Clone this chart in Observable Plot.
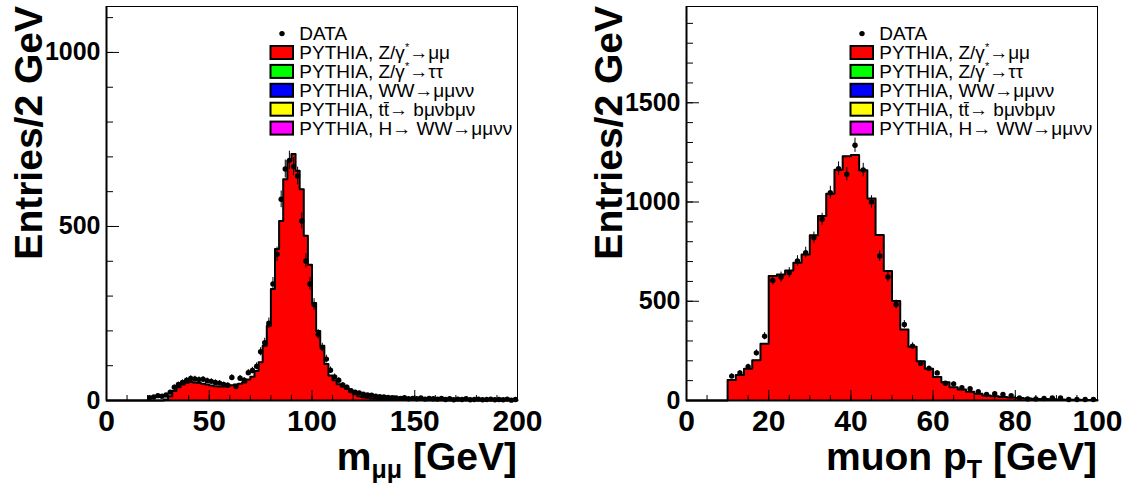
<!DOCTYPE html>
<html><head><meta charset="utf-8">
<script src="https://cdn.jsdelivr.net/npm/d3@7"></script>
<script src="https://cdn.jsdelivr.net/npm/@observablehq/plot@0.6"></script>
<style>
body{margin:0;background:#fff;}
#wrap{display:flex;width:1128px;height:483px;overflow:hidden;}
#wrap svg{display:block;}
</style>
</head><body><div id="wrap"></div>
<script>
// ---------- data: dimuon invariant mass, 2 GeV bins from 0 to 200 ----------
const massBinWidth = 2;
const massMC = [
  0,0,0,0,0,0,0,0,0,0,
  0,0,0,0,3,12,27,38,46,51,
  53,52,50,48,46,43,41,40,40,42,
  44,46,48,52,60,68,85,110,157,215,
  320,435,516,636,689,708,660,607,473,390,
  280,200,157,105,72,58,47,40,34,25,
  18,12,9,8,6,5,4,4,3,3,
  3,2,2,2,2,2,2,2,1,1,
  1,1,1,1,1,1,1,1,1,1,
  1,1,1,1,1,1,1,1,1,1
];
const massData = [
  0,0,0,0,0,0,0,0,0,0,
  8,10,14,12,16,24,38,46,52,58,
  63,62,60,61,57,55,52,50,46,44,
  66,40,64,58,80,86,98,140,166,222,
  335,420,578,665,690,672,645,516,401,335,
  276,190,152,119,87,68,58,45,38,28,
  24,22,18,16,15,12,11,10,9,8,
  7,6,8,5,6,5,7,4,6,5,
  4,6,3,5,2,4,3,5,2,3,
  4,2,3,4,2,3,2,4,1,3
];
// ---------- data: muon transverse momentum, 2 GeV bins from 0 to 100 ----------
const ptBinWidth = 2;
const ptMC = [
  0,0,0,0,0,103,128,160,203,286,
  627,635,655,694,736,832,929,1042,1163,1230,
  1237,1160,1018,834,652,501,358,271,198,160,
  119,92,67,55,44,34,25,22,18,15,
  12,10,8,7,6,5,4,4,3,3
];
const ptData = [
  0,0,0,0,0,123,139,170,240,324,
  605,622,644,703,745,820,913,1047,1168,1140,
  1286,1161,1000,728,622,484,383,274,187,161,
  139,87,84,64,59,44,30,34,30,24,
  13,8,8,10,13,13,5,5,5,5
];
// ---------- ticks ----------
const massXTicks = [0, 50, 100, 150, 200];
const massYTicks = [0, 500, 1000];
const ptXTicks = [0, 20, 40, 60, 80, 100];
const ptYTicks = [0, 500, 1000, 1500];
// ---------- legend ----------
const legendColors = [null, "#ff0000", "#00ff00", "#0000ff", "#ffff00", "#ff00ff"];
const legendLabels = [
  [["DATA"]],
  [["PYTHIA, Z/γ"], ["*", "sup"], ["→μμ"]],
  [["PYTHIA, Z/γ"], ["*", "sup"], ["→ττ"]],
  [["PYTHIA, WW→μμνν"]],
  [["PYTHIA, tt̄→ bμνbμν"]],
  [["PYTHIA, H→ WW→μμνν"]]
];

const FONT = "'Liberation Sans', Arial, Helvetica, sans-serif";

function panel(cfg) {
  const W = 564, H = 483, mt = 6, mb = 83;
  const {ml, mr, binWidth, mc, data, xMax, yMax, xTicks, xMinorStep, yTicks, yMinorStep} = cfg;
  const pw = W - ml - mr, ph = H - mt - mb;
  const outline = [{x: 0, y: 0}];
  mc.forEach((v, i) => outline.push({x: i * binWidth, y: v}));
  outline.push({x: xMax, y: mc[mc.length - 1]});
  outline.push({x: xMax, y: 0});
  const pts = data.map((v, i) => ({x: (i + 0.5) * binWidth, v})).filter(d => d.v > 0);
  const xMinor = d3.range(0, xMax + 1e-9, xMinorStep);
  const yMinor = d3.range(0, yMax, yMinorStep);

  const svg = Plot.plot({
    width: W, height: H,
    marginLeft: ml, marginRight: mr, marginTop: mt, marginBottom: mb,
    style: {fontFamily: FONT, background: "white", color: "black"},
    x: {domain: [0, xMax], axis: null},
    y: {domain: [0, yMax], axis: null},
    marks: [
      Plot.areaY(outline, {x: "x", y: "y", curve: "step-after", fill: "#ff0000"}),
      Plot.line(outline, {x: "x", y: "y", curve: "step-after", stroke: "black", strokeWidth: 2}),
      Plot.ruleX(pts, {x: "x", y1: d => d.v - Math.sqrt(d.v), y2: d => d.v + Math.sqrt(d.v), stroke: "black", strokeWidth: 1}),
      Plot.dot(pts, {x: "x", y: "v", r: 2.7, fill: "black", stroke: "none"}),
      Plot.frame({stroke: "black", strokeWidth: 1}),
      Plot.ruleX(xMinor, {insetTop: ph - 5, stroke: "black", strokeWidth: 1}),
      Plot.ruleX(xTicks, {insetTop: ph - 10, stroke: "black", strokeWidth: 1}),
      Plot.ruleY(yMinor, {insetRight: pw - 7, stroke: "black", strokeWidth: 1}),
      Plot.ruleY(yTicks, {insetRight: pw - 13, stroke: "black", strokeWidth: 1}),
      Plot.ruleY([0], {stroke: "black", strokeWidth: 2}),
      Plot.ruleX([0], {stroke: "black", strokeWidth: 2}),
      Plot.axisX(xTicks, {tickSize: 0, tickPadding: 9, fontSize: 30, fontWeight: "bold", label: null, tickFormat: d => String(d)}),
      Plot.axisY(yTicks, {tickSize: 0, tickPadding: 6, fontSize: 25, fontWeight: "bold", label: null, tickFormat: d => String(d)})
    ]
  });

  const s = d3.select(svg);
  // y-axis title
  s.append("text")
    .attr("transform", `translate(${ml - 64},${mt}) rotate(-90)`)
    .attr("text-anchor", "end")
    .attr("font-family", FONT).attr("font-size", 39).attr("font-weight", "bold")
    .attr("fill", "black")
    .text(cfg.yTitle);
  // x-axis title
  const xt = s.append("text")
    .attr("x", W - mr).attr("y", 470)
    .attr("text-anchor", "end")
    .attr("font-family", FONT).attr("font-size", 39).attr("font-weight", "bold")
    .attr("fill", "black");
  xt.append("tspan").text(cfg.xTitle[0]);
  xt.append("tspan").attr("font-size", 25).attr("dy", 8).text(cfg.xTitle[1]);
  xt.append("tspan").attr("dy", -8).text(cfg.xTitle[2]);
  // legend
  const lg = s.append("g").attr("transform", `translate(${ml},${mt})`)
    .attr("font-family", FONT).attr("font-size", 19).attr("fill", "black")
    .attr("text-anchor", "start");
  legendLabels.forEach((parts, i) => {
    const cy = 27.6 + 18.9 * i;
    if (legendColors[i] === null) {
      lg.append("circle").attr("cx", 176).attr("cy", cy).attr("r", 2.7).attr("fill", "black");
    } else {
      lg.append("rect").attr("x", 164.5).attr("y", cy - 6.5).attr("width", 22.5).attr("height", 13)
        .attr("fill", legendColors[i]).attr("stroke", "black").attr("stroke-width", 2);
    }
    const t = lg.append("text").attr("x", 193.3).attr("y", cy + 6.8).attr("text-anchor", "start");
    let shifted = false;
    parts.forEach(([txt, kind]) => {
      const ts = t.append("tspan").text(txt);
      if (kind === "sup") { ts.attr("font-size", 11).attr("dy", -8); shifted = true; }
      else if (shifted) { ts.attr("dy", 8); shifted = false; }
    });
  });
  return svg;
}

const wrap = document.getElementById("wrap");
wrap.appendChild(panel({
  ml: 106, mr: 47, binWidth: massBinWidth, mc: massMC, data: massData,
  xMax: 200, yMax: 1132, xTicks: massXTicks, xMinorStep: 10, yTicks: massYTicks, yMinorStep: 100,
  yTitle: "Entries/2 GeV", xTitle: ["m", "μμ", " [GeV]"]
}));
wrap.appendChild(panel({
  ml: 122, mr: 31, binWidth: ptBinWidth, mc: ptMC, data: ptData,
  xMax: 100, yMax: 1985, xTicks: ptXTicks, xMinorStep: 5, yTicks: ptYTicks, yMinorStep: 100,
  yTitle: "Entries/2 GeV", xTitle: ["muon p", "T", " [GeV]"]
}));
</script>
</body></html>
